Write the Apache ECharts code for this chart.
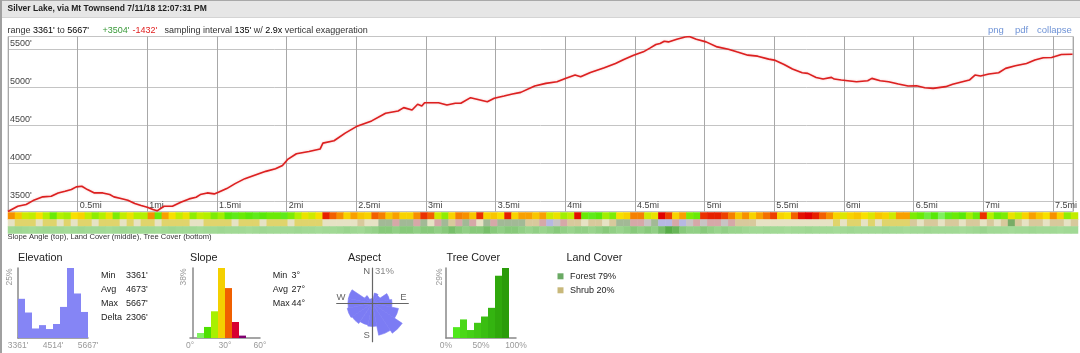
<!DOCTYPE html>
<html><head><meta charset="utf-8">
<script src="https://cdn.jsdelivr.net/npm/echarts@6/dist/echarts.min.js"></script>
<style>html,body{margin:0;padding:0;background:#fff}#c{width:1080px;height:353px}</style>
</head><body><div id="c"></div>
<script>
// ---------- DATA ----------
const distanceMi = [0.00,0.07,0.13,0.18,0.25,0.31,0.36,0.41,0.455,0.49,0.53,0.57,0.62,0.68,0.73,0.76,0.81,0.86,0.91,0.955,1.00,1.04,1.07,1.12,1.18,1.24,1.30,1.35,1.38,1.43,1.48,1.51,1.57,1.63,1.70,1.78,1.85,1.92,1.97,2.01,2.07,2.16,2.24,2.26,2.34,2.42,2.50,2.61,2.71,2.80,2.84,2.90,2.94,2.97,2.99,3.09,3.15,3.21,3.25,3.32,3.44,3.49,3.56,3.62,3.68,3.78,3.86,3.94,4.00,4.07,4.11,4.18,4.28,4.36,4.42,4.49,4.56,4.61,4.65,4.68,4.71,4.74,4.80,4.86,4.89,4.94,5.01,5.09,5.17,5.23,5.31,5.38,5.46,5.50,5.57,5.63,5.70,5.74,5.80,5.85,5.91,5.93,5.98,6.09,6.17,6.20,6.26,6.32,6.39,6.46,6.52,6.58,6.64,6.73,6.78,6.85,6.90,6.94,6.98,7.04,7.11,7.16,7.23,7.31,7.37,7.43,7.49,7.56,7.64];
const elevationFt = [3361,3430,3453,3505,3554,3562,3606,3627,3650,3685,3693,3650,3606,3606,3584,3554,3532,3509,3466,3440,3417,3387,3370,3430,3430,3483,3527,3549,3584,3606,3593,3614,3663,3728,3794,3846,3890,3925,3968,4052,4122,4152,4184,4262,4293,4394,4480,4555,4656,4686,4730,4699,4774,4752,4795,4795,4765,4787,4787,4861,4808,4853,4883,4909,4931,5014,5049,5071,5115,5159,5137,5194,5255,5312,5365,5421,5465,5517,5562,5575,5605,5596,5631,5661,5667,5631,5596,5530,5500,5465,5421,5408,5369,5356,5299,5238,5189,5181,5128,5106,5128,5106,5093,5071,5084,5115,5084,5071,5041,5014,5019,4992,4984,5006,5037,5071,5093,5159,5146,5172,5189,5247,5281,5312,5356,5386,5391,5430,5434];

const slopeStripDeg = [31,27,22,21,25,20,16,20,19,25,26,21,18,20,24,17,21,24,20,20,
 31,16,30,25,21,24,18,21,20,17,19,15,14,16,15,14,15,16,16,
 14,17,20,24,22,25,38,34,31,26,30,27,26,34,32,27,30,26,26,
 31,37,34,22,18,26,32,31,27,37,26,27,25,38,26,30,30,
 27,30,
 22,24,19,21,39,16,14,15,19,17,
 25,26,32,32,22,24,40,36,26,30,
 17,16,37,38,38,36,32,27,31,26,30,
 33,36,26,25,34,39,40,38,34,31,
 26,23,26,27,25,23,27,26,22,30,30,
 17,16,12,15,10,14,16,15,19,16,
 37,20,16,17,24,21,26,30,27,25,
 31,26,18,21];
// 0 beige,1 yellow,2 tan,3 grey-green,4 pink,5 lavender,6 green,7 grey
const landStripCode = [0,1,1,1,0,1,1,0,1,0, 1,1,0,1,1,1,0,1,0,1, 1,0,1,1,1,1,0,0,1,1, 1,1,0,1,1,1,0,1,1,1, 0,1,1,1,1,0,
 0,0,0,0,2,0,0, 3,3,4,3,3, 4,3,0,4,3,2,4,3,4,0,3,4, 3,3,3,3, 2,2,4, 5,7,4,
 2,2,0,2,2,0,2, 3,3, 4,4, 7,3,5, 5,4,5, 7,4,7,4,4,7,4, 2,2,2,
 0,0,0,0,0,0,0,0,0,0,0, 1,0,1,1,0,1,0,1, 1,1,1,
 2,0,2,2,0,2,2,0,2,2,0,2,0,2, 6, 2,0,2,2,0,2,2,0,2];
const treeStripPct = [70,72,70,68,70,72,70,70,68,70, 72,70,70,70,68,70,72,70,70,70, 70,68,70,72,70,70,70,68,70,70, 72,70,70,70,68,70,72,70,70,70, 70,72,70,70,68,70,70,72,75,72, 70,75,78,
 85,85,80,85,85,80,85,85,80,85,90,85,80,85,85,90,85,80,85,85,80,
 75,80,75,80,85,80,75,80,80,75,80,85,80,75,80,85,80,85,80,90,100,95,85,
 80,80,85,80,75,80,75,75,
 72,70,70,72,70,70,68,70,70,72, 70,70,70,68,70,72,70,70,70,70, 72,70,70,68,70,70,72,70,70,70, 70,68,70,72,75,70,70,70,68,70, 70,72,70,70,70,68,70,70];
const stripRows = ['Tree Cover','Land Cover','Slope Angle'];

const elevHistPct = [14.0,9.1,3.4,4.6,3.2,5.0,11.1,25.0,15.9,9.3];
const elevHistTicks = ["3361'","4514'","5667'"];
const elevHistMax = 25;
const slopeHistPct = [0,2.7,6.0,14.5,38.0,27.1,8.7,1.3,0,0];
const slopeHistTicks = ['0°','30°','60°'];
const slopeHistMax = 38;
const treeHistPct = [0,4.5,7.7,3.3,6.3,8.9,12.5,25.8,29.0,0];
const treeHistTicks = ['0%','50%','100%'];
const treeHistMax = 29;
const aspectDirs = ['N','NNE','NE','ENE','E','ESE','SE','SSE','S','SSW','SW','WSW','W','WNW','NW','NNW'];
const aspectPct = [4,9,8,15,17,23,31,28,20,19,21,22,21,21,8,4];
const aspectMax = 31;
const elevStats = [['Min',"3361'"],['Avg',"4673'"],['Max',"5667'"],['Delta',"2306'"]];
const slopeStats = [['Min','3°'],['Avg','27°'],['Max','44°']];
const landCoverNames = ['Forest','Shrub'];
const landCoverPct = [79,20];

// ---------- STYLES ----------
const FONT = 'Liberation Sans, Arial, sans-serif';
const slopeBarColors = ['#80f060','#80f060','#4ee000','#a8f000','#f4d000','#f06000','#d80030','#800070','#800070','#800070'];
const treeBarColors = ['#50e81c','#50e81c','#4ad818','#44d016','#40c814','#3abe12','#34b410','#2fa80c','#2a9c0a','#2a9c0a'];
const landColors = ['#e6e2c4','#e0d46c','#d8c99c','#a2b996','#d6a8a8','#b6b8e2','#78ac66','#c8c4c4'];
const landLegendColors = ['#6aaa64','#c8b87a'];
const roseColor = '#7c7cf4';

const cells = slopeStripDeg.map((_, i) => i);
const stripData = (arr, row) => arr.map((v, i) => [i, row, v]);

function txt(x, y, text, o) {
  o = o || {};
  return {type:'text', x:x, y:y, rotation:o.rot||0, z:10, style:Object.assign({text:text, fill:'#222', fontSize:9, fontFamily:FONT, align:'left', verticalAlign:'middle'}, o.style||{})};
}

const graphics = [
  {type:'rect', shape:{x:0,y:0,width:1080,height:17}, style:{fill:'#e6e6e6'}, z:0},
  {type:'rect', shape:{x:0,y:0,width:1080,height:1}, style:{fill:'#a8a8a8'}, z:1},
  {type:'rect', shape:{x:0,y:17,width:1080,height:1}, style:{fill:'#d4d4d4'}, z:1},
  {type:'rect', shape:{x:0,y:0,width:2,height:353}, style:{fill:'#a0a0a0'}, z:1},
  txt(7.5, 8.5, 'Silver Lake, via Mt Townsend 7/11/18 12:07:31 PM', {style:{fontSize:8.5, fontWeight:'bold', fill:'#222'}}),
  txt(7.5, 30.5, "range {b|3361'} to {b|5667'}", {style:{fill:'#333', rich:{b:{fill:'#000', fontSize:9, fontFamily:FONT}}}}),
  txt(102.5, 30.5, "+3504'", {style:{fill:'#3a9a3a'}}),
  txt(132.5, 30.5, "-1432'", {style:{fill:'#e02020'}}),
  txt(164.5, 30.5, "sampling interval {b|135'} w/ {b|2.9x} vertical exaggeration", {style:{fill:'#333', rich:{b:{fill:'#000', fontSize:9, fontFamily:FONT}}}}),
  txt(988, 30.5, 'png', {style:{fill:'#6f93d6', fontSize:9.5}}),
  txt(1015, 30.5, 'pdf', {style:{fill:'#6f93d6', fontSize:9.5}}),
  txt(1037, 30.5, 'collapse', {style:{fill:'#6f93d6', fontSize:9.5}}),
  txt(7.5, 237, 'Slope Angle (top), Land Cover (middle), Tree Cover (bottom)', {style:{fontSize:7.6, fill:'#333'}}),
  txt(18, 258.3, 'Elevation', {style:{fontSize:10.8}}),
  txt(190, 258.3, 'Slope', {style:{fontSize:10.8}}),
  txt(348, 258.3, 'Aspect', {style:{fontSize:10.8}}),
  txt(446.5, 258.3, 'Tree Cover', {style:{fontSize:10.8}}),
  txt(566.5, 258.3, 'Land Cover', {style:{fontSize:10.8}}),
  txt(10, 277, elevHistMax + '%', {rot:Math.PI/2, style:{fill:'#999', fontSize:8.5, align:'center'}}),
  txt(184, 277, slopeHistMax + '%', {rot:Math.PI/2, style:{fill:'#999', fontSize:8.5, align:'center'}}),
  txt(440, 277, treeHistMax + '%', {rot:Math.PI/2, style:{fill:'#999', fontSize:8.5, align:'center'}}),
  txt(366.7, 271.7, 'N', {style:{fill:'#666', fontSize:9.5, align:'center'}}),
  txt(375, 271.7, aspectMax + '%', {style:{fill:'#888', fontSize:9.5}}),
  txt(341, 297.3, 'W', {style:{fill:'#666', fontSize:9.5, align:'center'}}),
  txt(403.3, 297.3, 'E', {style:{fill:'#666', fontSize:9.5, align:'center'}}),
  txt(366.7, 335.7, 'S', {style:{fill:'#666', fontSize:9.5, align:'center'}})
];
const statY = [275.7, 289.7, 303.7, 317.7];
elevStats.forEach((s, i) => { graphics.push(txt(101, statY[i], s[0])); graphics.push(txt(126, statY[i], s[1])); });
slopeStats.forEach((s, i) => { graphics.push(txt(272.7, statY[i], s[0])); graphics.push(txt(291.5, statY[i], s[1])); });
landCoverNames.forEach((n, i) => {
  graphics.push({type:'rect', z:10, shape:{x:557.5, y:273.3 + 14*i, width:6, height:6}, style:{fill:landLegendColors[i]}});
  graphics.push(txt(570, 276.3 + 14*i, n + ' ' + landCoverPct[i] + '%'));
});

const histAxisLine = {show:true, lineStyle:{color:'#888', width:1.5}};
const noAxis = {axisLine:{show:false}, axisTick:{show:false}, axisLabel:{show:false}, splitLine:{show:false}};
const labelAxis = (gi, max, interval, ticks) => ({type:'value', gridIndex:gi, position:'bottom', min:0, max:max, interval:interval,
  axisLine:{show:false}, axisTick:{show:false}, splitLine:{show:false},
  axisLabel:{color:'#999', fontSize:8.5, fontFamily:FONT, margin:3, formatter:v => ticks[Math.round(v/interval)]}});

function renderRose(params, api) {
  const cs = params.coordSys;
  const cx = cs.cx, cy = cs.cy;
  const p = api.coord([api.value(0), api.value(1)]);
  const r = Math.hypot(p[0] - cx, p[1] - cy);
  const a = Math.atan2(p[1] - cy, p[0] - cx);
  const half = Math.PI / aspectDirs.length;
  return {type:'sector', shape:{cx:cx, cy:cy, r0:0, r:r, startAngle:a - half, endAngle:a + half, clockwise:true},
    style:{fill:roseColor, stroke:roseColor, lineWidth:0.6}};
}

const option = {
  animation:false,
  graphic:graphics,
  grid:[
    {left:8, top:36.5, width:1070, height:175, show:true, borderColor:'#c4c4c4', borderWidth:1, backgroundColor:'transparent'},
    {left:8, top:212.5, width:1070, height:21},
    {left:18, top:268, width:70, height:70},
    {left:190, top:268, width:70, height:70},
    {left:446, top:268, width:70, height:70},
    {left:336.7, top:268, width:71.6, height:73.7}
  ],
  polar:{center:[372.3, 303.3], radius:36},
  angleAxis:{type:'category', data:aspectDirs, startAngle:101.25, clockwise:true, axisLine:{show:false}, axisTick:{show:false}, axisLabel:{show:false}, splitLine:{show:false}},
  radiusAxis:{type:'value', min:0, max:aspectMax, axisLine:{show:false}, axisTick:{show:false}, axisLabel:{show:false}, splitLine:{show:false}},
  xAxis:[
    {type:'value', gridIndex:0, min:0, max:7.643, interval:0.5,
      axisLine:{show:false}, axisTick:{show:false},
      splitLine:{show:true, lineStyle:{color:'#a8a8a8', width:1}},
      axisLabel:{inside:true, margin:1, align:'left', verticalAlign:'bottom', padding:[0,0,0,2], color:'#444', fontSize:9, fontFamily:FONT,
        formatter:v => (v > 0 && Math.abs(v*2 - Math.round(v*2)) < 1e-6 && v < 7.6) ? (+v.toFixed(1)) + 'mi' : ''}},
    Object.assign({type:'category', gridIndex:1, data:cells}, noAxis),
    Object.assign({type:'category', gridIndex:2, data:elevHistPct.map((_, i) => i)}, noAxis, {axisLine:histAxisLine}),
    labelAxis(2, 2, 1, elevHistTicks),
    Object.assign({type:'category', gridIndex:3, data:slopeHistPct.map((_, i) => i)}, noAxis, {axisLine:histAxisLine}),
    labelAxis(3, 60, 30, slopeHistTicks),
    Object.assign({type:'category', gridIndex:4, data:treeHistPct.map((_, i) => i)}, noAxis, {axisLine:histAxisLine}),
    labelAxis(4, 100, 50, treeHistTicks),
    Object.assign({type:'value', gridIndex:5, min:-35.6, max:36, z:5}, noAxis, {axisLine:{show:true, onZero:true, lineStyle:{color:'#666', width:1.2}}})
  ],
  yAxis:[
    {type:'value', gridIndex:0, min:3361, max:5667, splitNumber:5,
      axisLine:{show:false}, axisTick:{show:false},
      splitLine:{show:true, lineStyle:{color:'#c4c4c4', width:1}},
      axisLabel:{inside:true, margin:2, align:'left', verticalAlign:'bottom', padding:[0,0,1,0], color:'#444', fontSize:9, fontFamily:FONT,
        showMinLabel:false, showMaxLabel:false,
        formatter:v => (v % 500 === 0) ? v + "'" : ''}},
    Object.assign({type:'category', gridIndex:1, data:stripRows}, noAxis),
    Object.assign({type:'value', gridIndex:2, min:0, max:elevHistMax}, noAxis, {axisLine:histAxisLine}),
    Object.assign({type:'value', gridIndex:3, min:0, max:slopeHistMax, offset:-3}, noAxis, {axisLine:histAxisLine}),
    Object.assign({type:'value', gridIndex:4, min:0, max:treeHistMax}, noAxis, {axisLine:histAxisLine}),
    Object.assign({type:'value', gridIndex:5, min:-38.4, max:35.3, z:5}, noAxis, {axisLine:{show:true, onZero:true, lineStyle:{color:'#666', width:1.2}}})
  ],
  visualMap:[
    {type:'continuous', show:false, seriesIndex:1, min:5, max:45,
      inRange:{color:['#b0f8b0','#80f060','#58e808','#b4f000','#f8e000','#f8a000','#f05000','#e00000','#a00040']}},
    {type:'piecewise', show:false, seriesIndex:2,
      pieces:landColors.map((c, i) => ({value:i, color:c}))},
    {type:'continuous', show:false, seriesIndex:3, min:50, max:100,
      inRange:{color:['#c6ecbe','#a6dc9a','#8ccc80','#58ac48']}}
  ],
  series:[
    {type:'line', xAxisIndex:0, yAxisIndex:0, data:distanceMi.map((d, i) => [d, elevationFt[i]]), showSymbol:false, z:3,
      lineStyle:{color:'#dc2020', width:1.6, shadowBlur:2, shadowColor:'rgba(230,60,60,0.35)'}},
    {type:'heatmap', xAxisIndex:1, yAxisIndex:1, data:stripData(slopeStripDeg, 2), itemStyle:{borderWidth:0}},
    {type:'heatmap', xAxisIndex:1, yAxisIndex:1, data:stripData(landStripCode, 1), itemStyle:{borderWidth:0}},
    {type:'heatmap', xAxisIndex:1, yAxisIndex:1, data:stripData(treeStripPct, 0), itemStyle:{borderWidth:0}},
    {type:'bar', xAxisIndex:2, yAxisIndex:2, data:elevHistPct, barCategoryGap:'0%', itemStyle:{color:'#8585f5'}},
    {type:'bar', xAxisIndex:4, yAxisIndex:3, barCategoryGap:'0%', data:slopeHistPct.map((v, i) => ({value:v, itemStyle:{color:slopeBarColors[i]}}))},
    {type:'bar', xAxisIndex:6, yAxisIndex:4, barCategoryGap:'0%', data:treeHistPct.map((v, i) => ({value:v, itemStyle:{color:treeBarColors[i]}}))},
    {type:'custom', coordinateSystem:'polar', z:2, silent:true, renderItem:renderRose,
      encode:{radius:0, angle:1},
      data:aspectPct.map((v, i) => [v, i])}
  ]
};
const chart = echarts.init(document.getElementById('c'), null, {renderer:'canvas'});
chart.setOption(option);
</script>
</body></html>
